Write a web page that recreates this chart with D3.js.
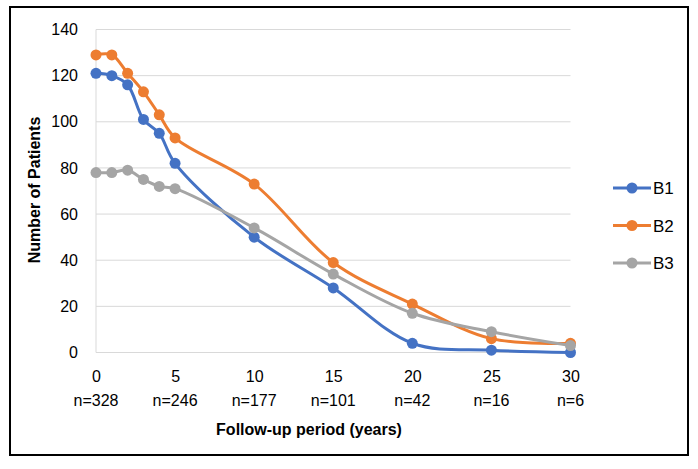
<!DOCTYPE html>
<html><head><meta charset="utf-8">
<script src="https://cdn.jsdelivr.net/npm/d3@7"></script>
<style>body{margin:0;background:#fff}svg text{font-family:"Liberation Sans",Arial,sans-serif;fill:#000}</style>
</head><body><svg id="c" width="698" height="469"></svg>
<script>
const years = [0,1,2,3,4,5,10,15,20,25,30];
const b1 = [121,120,116,101,95,82,50,28,4,1,0];
const b2 = [129,129,121,113,103,93,73,39,21,6,4];
const b3 = [78,78,79,75,72,71,54,34,17,9,3];
const seriesNames = ["B1","B2","B3"];
const seriesColors = ["#4472C4","#ED7D31","#A5A5A5"];
const xTicks = [0,5,10,15,20,25,30];
const nLabels = ["n=328","n=246","n=177","n=101","n=42","n=16","n=6"];
const yTicks = [0,20,40,60,80,100,120,140];

const svg = d3.select("#c");
svg.append("rect").attr("x",10).attr("y",7).attr("width",678).attr("height",448)
  .attr("fill","#fff").attr("stroke","#000").attr("stroke-width",2);

const x = d3.scaleLinear().domain([0,30]).range([96,570.5]);
const y = d3.scaleLinear().domain([0,140]).range([352.5,29.5]);

// gridlines
svg.append("g").selectAll("line").data(yTicks).join("line")
  .attr("x1",x(0)).attr("x2",x(30)).attr("y1",d=>y(d)).attr("y2",d=>y(d))
  .attr("stroke","#d9d9d9").attr("stroke-width",1);
svg.append("line").attr("x1",x(0)).attr("x2",x(0)).attr("y1",y(0)).attr("y2",y(140))
  .attr("stroke","#d9d9d9");

// y axis labels
const yAxis = d3.axisLeft(y).tickValues(yTicks).tickSize(0).tickPadding(18);
const gy = svg.append("g").attr("transform",`translate(${x(0)},0)`).call(yAxis);
gy.select(".domain").remove();
gy.selectAll("text").style("font-size","16px").style("font-family","Liberation Sans, Arial, sans-serif");

// x axis labels
const xAxis = d3.axisBottom(x).tickValues(xTicks).tickSize(0).tickPadding(18);
const gx = svg.append("g").attr("transform",`translate(0,${y(0)})`).call(xAxis);
gx.select(".domain").remove();
gx.selectAll("text").style("font-size","16px").style("font-family","Liberation Sans, Arial, sans-serif");

svg.append("g").selectAll("text").data(xTicks).join("text")
  .attr("x",d=>x(d)).attr("y",406).attr("text-anchor","middle")
  .style("font-size","16px").text((d,i)=>nLabels[i]);

svg.append("text").attr("x",309).attr("y",435).attr("text-anchor","middle")
  .style("font-size","16px").style("font-weight","bold").text("Follow-up period (years)");
svg.append("text").attr("transform","translate(40,190) rotate(-90)").attr("text-anchor","middle")
  .style("font-size","16px").style("font-weight","bold").text("Number of Patients");

const data = [b1,b2,b3];
const line = d3.line().x((d,i)=>x(years[i])).y(d=>y(d)).curve(d3.curveCatmullRom.alpha(0.5));
data.forEach((s,k)=>{
  const g = svg.append("g");
  g.append("path").datum(s).attr("d",line).attr("fill","none")
    .attr("stroke",seriesColors[k]).attr("stroke-width",3).attr("stroke-linejoin","round");
  g.selectAll("circle").data(s).join("circle")
    .attr("cx",(d,i)=>x(years[i])).attr("cy",d=>y(d)).attr("r",5.5).attr("fill",seriesColors[k]);
});

// legend
const lg = svg.append("g");
seriesNames.forEach((n,k)=>{
  const ly = 188 + k*37.5;
  lg.append("line").attr("x1",613).attr("x2",651).attr("y1",ly).attr("y2",ly)
    .attr("stroke",seriesColors[k]).attr("stroke-width",3);
  lg.append("circle").attr("cx",632).attr("cy",ly).attr("r",5.5).attr("fill",seriesColors[k]);
  lg.append("text").attr("x",653).attr("y",ly+6).style("font-size","17px").text(n);
});
</script></body></html>
